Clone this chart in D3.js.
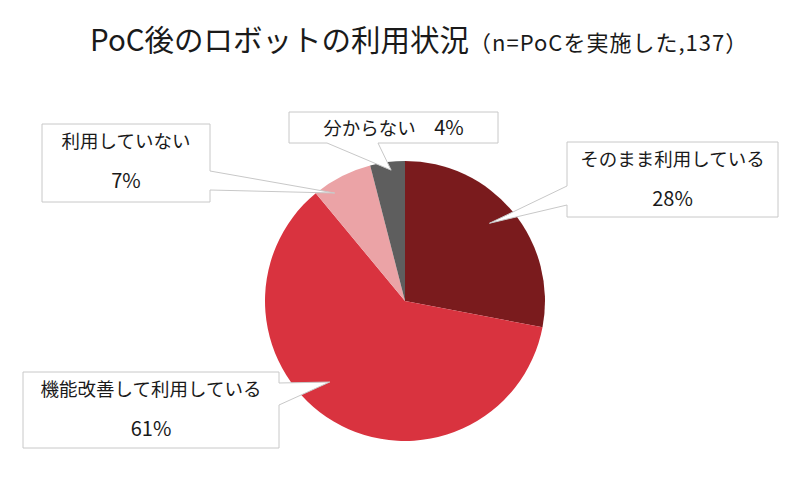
<!DOCTYPE html>
<html>
<head>
<meta charset="UTF-8">
<title>PoC後のロボットの利用状況</title>
<style>
    body { margin: 0; background: #fff; }
    text { font-family: "Noto Sans CJK JP", sans-serif; fill: #1a1a1a; }
    .title { font-size: 29.5px; }
    .sub { font-size: 22px; letter-spacing: 1px; }
    .label { font-size: 18.5px; text-anchor: middle; }
    .pct { font-size: 20px; text-anchor: middle; }
    .callout { fill: #fff; stroke: #c8c8c8; stroke-width: 1; }
</style>
<script src="https://d3js.org/d3.v7.min.js"></script>
</head>
<body>
<div id="chart"></div>
<script>
    // data
    const categories = ["そのまま利用している", "機能改善して利用している", "利用していない", "分からない"];
    const values = [28, 61, 7, 4];
    const colors = ["#7a1b1d", "#d9333f", "#eba3a6", "#5e5e5e"];

    const width = 800, height = 483;
    const cx = 405, cy = 301, radius = 140;

    // callout boxes: box rect, side of the pointer, pointer base, pointer tip (fraction of slice angle, fraction of radius)
    const callouts = [
        {box: [567, 142, 778, 217], side: "left", base: [186, 205], at: 0.47, r: 0.82, lines: 2},
        {box: [23, 372, 279, 448], side: "right", base: [383, 405], at: 0.556, r: 0.79, lines: 2},
        {box: [42, 124, 210, 202], side: "right", base: [171, 190], at: 0.26, r: 0.92, lines: 2},
        {box: [289, 112, 498, 143], side: "bottom", base: [327, 378], at: 0.58, r: 0.94, lines: 1}
    ];

    const svg = d3.select("#chart")
        .append("svg")
            .attr("width", width)
            .attr("height", height);

    // title
    const title = svg.append("text")
        .attr("x", 90)
        .attr("y", 51);
    title.append("tspan").attr("class", "title").text("PoC後のロボットの利用状況");
    title.append("tspan").attr("class", "sub").text("（n=PoCを実施した,137）");

    const pie = d3.pie().sort(null).value(d => d)(values);
    const arc = d3.arc().innerRadius(0).outerRadius(radius);

    const g = svg.append("g").attr("transform", `translate(${cx},${cy})`);
    g.selectAll("path")
        .data(pie)
        .enter()
        .append("path")
            .attr("d", arc)
            .attr("fill", (d, i) => colors[i]);

    function calloutPath(c, tip) {
        const [x0, y0, x1, y1] = c.box;
        const [b0, b1] = c.base;
        const t = `${tip[0]},${tip[1]}`;
        if (c.side === "left")
            return `M${x0},${y0}H${x1}V${y1}H${x0}V${b1}L${t}L${x0},${b0}Z`;
        if (c.side === "right")
            return `M${x0},${y0}H${x1}V${b0}L${t}L${x1},${b1}V${y1}H${x0}Z`;
        return `M${x0},${y0}H${x1}V${y1}H${b1}L${t}L${b0},${y1}H${x0}Z`;
    }

    pie.forEach((d, i) => {
        const c = callouts[i];
        const a = d.startAngle + c.at * (d.endAngle - d.startAngle);
        const tip = [cx + Math.sin(a) * radius * c.r, cy - Math.cos(a) * radius * c.r];
        svg.append("path")
            .attr("class", "callout")
            .attr("d", calloutPath(c, tip));

        const mx = (c.box[0] + c.box[2]) / 2;
        const pct = values[i] + "%";
        if (c.lines === 2) {
            svg.append("text").attr("class", "label")
                .attr("x", mx).attr("y", c.box[1] + 24)
                .text(categories[i]);
            svg.append("text").attr("class", "pct")
                .attr("x", mx).attr("y", c.box[1] + 64)
                .text(pct);
        } else {
            const t = svg.append("text").attr("class", "label")
                .attr("x", mx).attr("y", c.box[1] + 23);
            t.append("tspan").text(categories[i] + "\u3000");
            t.append("tspan").attr("class", "pct").text(pct);
        }
    });
</script>
</body>
</html>
